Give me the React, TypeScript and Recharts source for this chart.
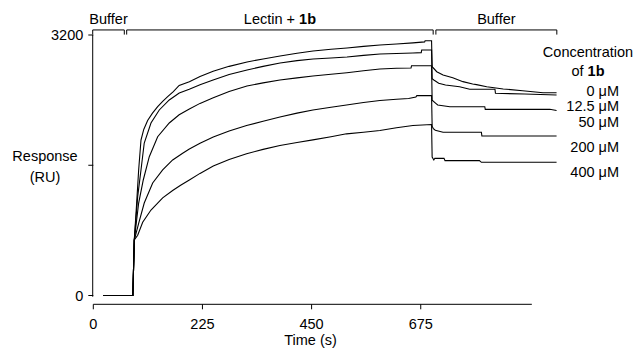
import React from 'react';
import { LineChart, Line, XAxis, YAxis, ReferenceLine } from 'recharts';

const FONT = '"Liberation Sans", Arial, Helvetica, sans-serif';
const FS = 14.5;

// time (s), response (RU)
const conc0: [number, number][] = [
  [20, 0], [81.5, 0], [84.5, 682], [89.4, 1136], [93.5, 1542], [98.3, 1910], [104, 2040], [112, 2150],
  [122, 2240], [132.7, 2319], [143, 2385], [153.3, 2442], [165, 2505], [177, 2580], [198, 2627], [220, 2690],
  [247, 2755], [280, 2815], [317, 2869], [350, 2905], [385, 2942], [420, 2975], [453, 3004], [490, 3025],
  [523, 3041], [557, 3060], [591, 3077], [625, 3090], [659, 3103], [683, 3115], [684, 3130], [697.3, 3130],
  [698.5, 2811], [708, 2749], [721, 2709], [741, 2676], [762, 2627], [782, 2598], [790, 2590], [811, 2565],
  [845, 2537], [885, 2516], [927, 2491], [955, 2491],
];
const conc12_5: [number, number][] = [
  [20, 0], [81.5, 0], [84.5, 682], [91.5, 1214], [98.3, 1542], [105, 1873], [118.9, 2119], [136, 2279],
  [156.6, 2402], [177.2, 2488], [197.8, 2533], [220, 2590], [247, 2647], [280, 2715], [317, 2770], [350, 2815],
  [385, 2856], [420, 2885], [453, 2905], [490, 2918], [523, 2930], [557, 2950], [591, 2967], [625, 2973],
  [659, 2979], [676, 2983], [677, 3016], [697.3, 3016], [698.5, 2662], [702, 2647], [712, 2607], [726, 2586],
  [755, 2565], [776, 2533], [828, 2533], [829, 2484], [889, 2475], [955, 2463],
];
const conc50: [number, number][] = [
  [20, 0], [81.5, 0], [84.5, 682], [93.5, 1136], [103, 1419], [115.4, 1705], [132.7, 1951], [156.6, 2119],
  [177, 2220], [198, 2290], [220, 2360], [247.3, 2428], [280, 2505], [316.7, 2574], [350, 2612], [384.7, 2647],
  [420, 2673], [452.7, 2697], [490, 2718], [522.8, 2737], [557, 2760], [590.8, 2783], [625, 2792], [655, 2795],
  [656, 2823], [697.3, 2823], [698.5, 2400], [706, 2361], [710, 2340], [735, 2319], [807, 2319], [808, 2287],
  [941, 2287], [955, 2273],
];
const conc200: [number, number][] = [
  [20, 0], [81.5, 0], [84.5, 682], [93.5, 885], [105, 1136], [122.4, 1382], [143, 1542], [163.6, 1665],
  [184.2, 1748], [198, 1800], [220, 1870], [247.3, 1946], [280, 2020], [316, 2088], [350, 2140], [384.7, 2193],
  [420, 2240], [452.7, 2279], [490, 2313], [522, 2340], [557, 2370], [590.8, 2396], [625, 2410], [650, 2420],
  [665, 2439], [667, 2455], [697.3, 2455], [698.5, 2080], [701, 2050], [705, 2030], [721, 2005], [800, 2005],
  [801, 1960], [955, 1960],
];
const conc400: [number, number][] = [
  [20, 0], [81.5, 0], [84.5, 682], [91.5, 740], [101.8, 900], [118.9, 1050], [143, 1200], [163.6, 1290],
  [180, 1355], [198, 1420], [220, 1500], [247.3, 1590], [280, 1670], [316, 1741], [350, 1795], [384.7, 1843],
  [420, 1880], [452.7, 1912], [490, 1950], [522, 1986], [557, 2005], [590.8, 2027], [625, 2060], [658.8, 2088],
  [697.3, 2100], [698.5, 1700], [702, 1665], [704, 1685], [723, 1685], [725, 1657], [796, 1657], [800, 1636],
  [955, 1636],
];

const seriesList = [conc0, conc12_5, conc50, conc200, conc400];
const concentrationLabels = ['0 \u03bcM', '12.5 \u03bcM', '50 \u03bcM', '200 \u03bcM', '400 \u03bcM'];
const xTicks = [0, 225, 450, 675];
const yTicks = [0, 1600, 3200];

const phaseStarts = [-1.2, 68.8, 706.2];
const phaseEnds = [63.9, 700.6, 955.5];
const phaseLabels = ['Buffer', 'Lectin + ', 'Buffer'];
const phaseBold = ['', '1b', ''];
const bracketTop = 3262;
const bracketBottom = 3205;

const toPoints = (s: [number, number][]) => s.map(([t, r]) => ({ t, r }));

function PhaseLabel(props: any) {
  const { viewBox, text, bold } = props;
  if (!viewBox) return null;
  const cx = viewBox.x + viewBox.width / 2;
  return (
    <text x={cx} y={viewBox.y - 5.5} textAnchor="middle" fontFamily={FONT} fontSize={FS} fill="#000">
      {text}
      {bold ? <tspan fontWeight="bold">{bold}</tspan> : null}
    </text>
  );
}

export default function App() {
  const legendBaselines = [96, 111.4, 127, 151.7, 177];
  return (
    <div style={{ position: 'absolute', left: 0, top: 0, width: 640, height: 348, background: '#fff' }}>
      <LineChart
        width={640}
        height={348}
        margin={{ top: 35, right: 81, left: 33.3, bottom: 13.7 }}
        style={{ fontFamily: FONT }}
      >
        <XAxis
          dataKey="t"
          type="number"
          domain={[0, 960]}
          ticks={xTicks}
          interval={0}
          height={30}
          axisLine={false}
          tickLine={{ stroke: '#000' }}
          tickSize={5}
          tickMargin={9}
          tick={{ fill: '#000', fontSize: FS, fontFamily: FONT }}
        />
        <YAxis
          type="number"
          domain={[-108, 3200]}
          ticks={yTicks}
          interval={0}
          width={60}
          axisLine={false}
          tickLine={{ stroke: '#000' }}
          tickSize={5}
          tickMargin={5}
          tickFormatter={(v: number) => (v === 1600 ? '' : String(v))}
          tick={{ fill: '#000', fontSize: FS, fontFamily: FONT }}
        />
        <ReferenceLine segment={[{ x: -1.2, y: -15 }, { x: -1.2, y: 3200 }]} stroke="#000" strokeWidth={1} ifOverflow="visible" />
        <ReferenceLine segment={[{ x: 0, y: -108 }, { x: 904, y: -108 }]} stroke="#000" strokeWidth={1} ifOverflow="visible" />
        {phaseStarts.map((s, i) => (
          <ReferenceLine
            key={'bl' + i}
            segment={[{ x: s, y: bracketBottom }, { x: s, y: bracketTop }]}
            stroke="#000"
            strokeWidth={1}
            ifOverflow="visible"
          />
        ))}
        {phaseStarts.map((s, i) => (
          <ReferenceLine
            key={'bt' + i}
            segment={[{ x: s, y: bracketTop }, { x: phaseEnds[i], y: bracketTop }]}
            stroke="#000"
            strokeWidth={1}
            ifOverflow="visible"
            label={<PhaseLabel text={phaseLabels[i]} bold={phaseBold[i]} />}
          />
        ))}
        {phaseEnds.map((e, i) => (
          <ReferenceLine
            key={'br' + i}
            segment={[{ x: e, y: bracketTop }, { x: e, y: bracketBottom }]}
            stroke="#000"
            strokeWidth={1}
            ifOverflow="visible"
          />
        ))}
        {seriesList.map((s, i) => (
          <Line
            key={'s' + i}
            data={toPoints(s)}
            dataKey="r"
            type="linear"
            stroke="#000"
            strokeWidth={1.1}
            dot={false}
            activeDot={false}
            isAnimationActive={false}
          />
        ))}
      </LineChart>
      <svg
        width={640}
        height={348}
        style={{ position: 'absolute', left: 0, top: 0, pointerEvents: 'none' }}
        fontFamily={FONT}
        fontSize={FS}
        fill="#000"
      >
        <text x={45} y={161} textAnchor="middle">Response</text>
        <text x={45} y={181.7} textAnchor="middle">(RU)</text>
        <text x={310.5} y={344.5} textAnchor="middle">Time (s)</text>
        <text x={588} y={57.3} textAnchor="middle">Concentration</text>
        <text x={588} y={76} textAnchor="middle">
          of <tspan fontWeight="bold">1b</tspan>
        </text>
        {concentrationLabels.map((c, i) => (
          <text key={c} x={619} y={legendBaselines[i]} textAnchor="end">{c}</text>
        ))}
      </svg>
    </div>
  );
}
